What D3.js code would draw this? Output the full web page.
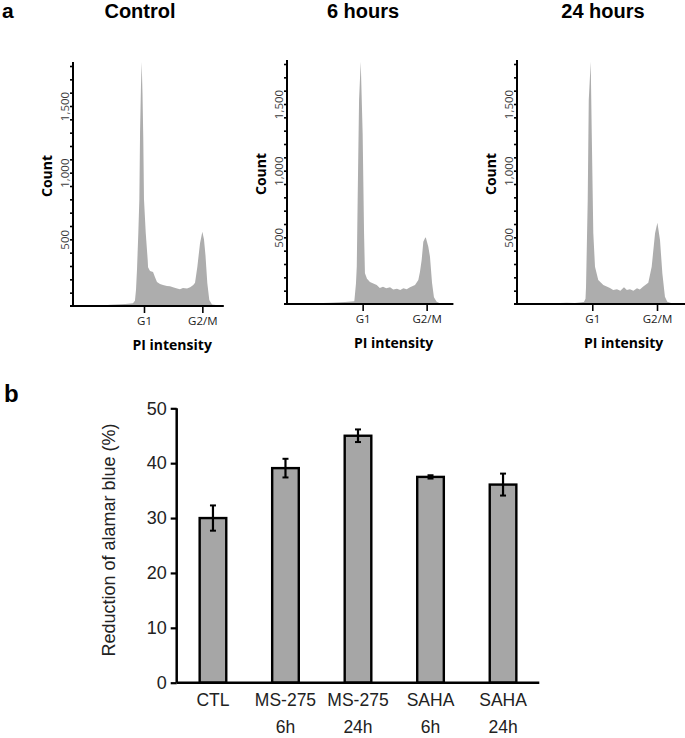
<!DOCTYPE html>
<html><head><meta charset="utf-8">
<script src="https://cdn.jsdelivr.net/npm/d3@7"></script>
<style>body{margin:0;background:#fff}</style>
</head><body>
<svg id="chart" width="685" height="738" xmlns="http://www.w3.org/2000/svg"></svg>
<script>
// ---------- Panel a data ----------
const panelTitles = ["Control", "6 hours", "24 hours"];
// [PI intensity (arbitrary units), count]
const histControl = [[20,3],[28,5],[32,10],[45,15],[51.7,20],[53.4,40],[54.3,120],[55.2,280],[56.3,545],[57.2,800],[57.8,1300],[58.6,1650],[59.2,1830],[59.9,1600],[60.6,1250],[61.2,800],[62.7,550],[64.4,345],[64.7,290],[66.4,262],[69,255],[70.7,215],[72.4,180],[75,165],[77.6,157],[81,150],[83.6,148],[86.2,140],[89.7,132],[92.2,125],[94.8,135],[98.3,132],[101,140],[103.7,157],[105.2,175],[107.2,295],[109.5,470],[111.5,557],[112.9,500],[114.2,380],[115.8,170],[117.5,45],[119.8,12],[125,5],[130,2]];
const hist6h = [[20,3],[23.2,5],[33.6,10],[45.3,15],[52.6,20],[53.9,155],[54.5,280],[55.2,780],[56.3,1530],[57.6,1817],[59.1,1280],[60.2,530],[60.9,230],[62.5,190],[64.8,165],[70.1,142],[72.5,120],[75,130],[77.5,118],[80.5,125],[83,108],[85.9,115],[88.5,105],[90.9,118],[93.5,110],[96.1,125],[100,142],[102.6,180],[103.9,242],[105.2,330],[106.5,467],[107.8,493],[108.4,500],[110.4,430],[111.7,355],[113.3,160],[114.8,50],[116.9,17],[119.5,5],[130,2]];
const hist24h = [[22,3],[27.7,5],[38.2,10],[44.6,8],[51.5,15],[52.7,40],[53.1,130],[54.4,780],[55.2,1530],[56.7,1817],[57.5,1280],[58.7,530],[60,280],[62.5,180],[66.4,142],[71.5,120],[74,105],[76.9,110],[79.5,100],[82.3,125],[84.5,105],[86.9,110],[89.5,100],[92.3,118],[94.5,108],[96.9,130],[101,160],[103.6,280],[106.2,530],[108,610],[110,480],[111.8,230],[113.8,55],[115.6,17],[119.2,5],[128,2]];
const g1Pos = [61.2, 59.1, 57.9];
const g2mPos = [111.5, 109.1, 107.7];
const phaseLabels = ["G1", "G2/M"];
const countTicks = d3.range(100, 1900, 100);
const countLabelValues = [500, 1000, 1500];

// ---------- Panel b data ----------
const groupLine1 = ["CTL", "MS-275", "MS-275", "SAHA", "SAHA"];
const groupLine2 = ["", "6h", "24h", "6h", "24h"];
const alamarMean = [30.0, 39.1, 45.0, 37.5, 36.1];
const alamarErr = [2.3, 1.7, 1.15, 0.3, 2.0];
const alamarTicks = [0, 10, 20, 30, 40, 50];

// ---------- drawing ----------
const svg = d3.select("#chart");
const hists = [histControl, hist6h, hist24h];

// layout (positions/styles only)
const axisXs = [73, 287, 517];
const pxPerUnit = [1.16, 1.28, 1.30];
const baselines = [306, 304, 304];
const titleCenters = [140, 363, 603];
const axisLen = 244;

svg.append("text").attr("x", 2).attr("y", 18)
  .style("font-family", "Liberation Sans, Arial, sans-serif")
  .style("font-weight", "bold").style("font-size", "21px").text("a");

hists.forEach((data, i) => {
  const x = d3.scaleLinear().domain([0, 130]).range([axisXs[i], axisXs[i] + 130 * pxPerUnit[i]]);
  const y = d3.scaleLinear().domain([0, 1830]).range([baselines[i], baselines[i] - axisLen]);
  const g = svg.append("g");

  const area = d3.area().x(d => x(d[0])).y0(y(0)).y1(d => y(d[1])).curve(d3.curveLinear);
  g.append("path").datum(data).attr("d", area).attr("fill", "#adadad").attr("stroke", "none");

  // y axis
  const yAxis = d3.axisLeft(y).tickValues(countTicks).tickSize(3).tickPadding(0)
    .tickFormat(d => countLabelValues.includes(d) ? d3.format(",")(d) : "");
  const ya = g.append("g").attr("transform", `translate(${axisXs[i]},0)`).call(yAxis);
  ya.select(".domain").attr("d", `M0,${baselines[i]}V${baselines[i] - axisLen}`).attr("stroke", "#000").attr("stroke-width", 2);
  ya.selectAll(".tick line").attr("stroke", "#000").attr("stroke-width", 1.6);
  ya.selectAll(".tick text")
    .attr("x", 0).attr("y", -4).attr("dy", 0)
    .attr("transform", "rotate(-90)")
    .attr("text-anchor", "middle")
    .style("font-family", "Open Sans, sans-serif").style("font-size", "11.5px")
    .style("font-weight", "normal").attr("fill", "#3a3a3a");

  // x axis
  const xAxis = d3.axisBottom(x).tickValues([g1Pos[i], g2mPos[i]]).tickSize(7).tickPadding(4)
    .tickFormat((d, j) => phaseLabels[j]);
  const xa = g.append("g").attr("transform", `translate(0,${baselines[i]})`).call(xAxis);
  xa.select(".domain").attr("d", `M${axisXs[i] - 3},0H${x(130)}`).attr("stroke", "#000").attr("stroke-width", 2);
  xa.selectAll(".tick line").attr("stroke", "#000").attr("stroke-width", 1.6);
  xa.selectAll(".tick text")
    .style("font-family", "Open Sans, sans-serif").style("font-size", "11.5px")
    .style("font-weight", "normal").attr("fill", "#222");

  // labels
  g.append("text").attr("x", titleCenters[i]).attr("y", 18).attr("text-anchor", "middle")
    .style("font-family", "Liberation Sans, Arial, sans-serif").style("font-weight", "bold")
    .style("font-size", "20px").text(panelTitles[i]);
  g.append("text").attr("transform", `translate(${axisXs[i] - 21},${baselines[i] - 130}) rotate(-90)`)
    .attr("text-anchor", "middle")
    .style("font-family", "Open Sans, sans-serif").style("font-weight", "bold")
    .style("font-size", "14px").text("Count");
  g.append("text").attr("x", (x(g1Pos[i]) + x(g2mPos[i])) / 2 - 1).attr("y", baselines[i] + 44)
    .attr("text-anchor", "middle")
    .style("font-family", "Open Sans, sans-serif").style("font-weight", "bold")
    .style("font-size", "14px").text("PI intensity");
});

// ---------- panel b ----------
svg.append("text").attr("x", 4).attr("y", 402)
  .style("font-family", "Liberation Sans, Arial, sans-serif")
  .style("font-weight", "bold").style("font-size", "24px").text("b");

const bx0 = 176.7, bx1 = 539.3, by0 = 682.7, by1 = 408.3;
const xb = d3.scaleBand().domain(groupLine1.map((d, i) => i)).range([bx0, bx1]).paddingInner(0.6).paddingOuter(0.3);
const yb = d3.scaleLinear().domain([0, 50]).range([by0, by1]);
const gb = svg.append("g");

gb.selectAll("rect.bar").data(alamarMean).join("rect").attr("class", "bar")
  .attr("x", (d, i) => xb(i) + 1.2)
  .attr("width", xb.bandwidth() - 2.4)
  .attr("y", d => yb(d))
  .attr("height", d => yb(0) - yb(d))
  .attr("fill", "#a6a6a6").attr("stroke", "#000").attr("stroke-width", 2.4);

// error bars
alamarMean.forEach((m, i) => {
  const cx = xb(i) + xb.bandwidth() / 2;
  const e = alamarErr[i];
  gb.append("line").attr("x1", cx).attr("x2", cx).attr("y1", yb(m + e)).attr("y2", yb(m - e))
    .attr("stroke", "#000").attr("stroke-width", 2.2);
  [m + e, m - e].forEach(v => {
    gb.append("line").attr("x1", cx - 3).attr("x2", cx + 3).attr("y1", yb(v)).attr("y2", yb(v))
      .attr("stroke", "#000").attr("stroke-width", 2);
  });
});

const ybAxis = d3.axisLeft(yb).tickValues(alamarTicks).tickSize(6).tickPadding(4).tickFormat(d3.format("d"));
const yba = gb.append("g").attr("transform", `translate(${bx0},0)`).call(ybAxis);
yba.select(".domain").attr("d", `M0,${by1}V${by0}`).attr("stroke", "#000").attr("stroke-width", 2.5);
yba.selectAll(".tick line").attr("stroke", "#000").attr("stroke-width", 2.2);
yba.selectAll(".tick text").style("font-family", "Liberation Sans, Arial, sans-serif")
  .style("font-size", "18px").attr("fill", "#222");

gb.append("line").attr("x1", bx0).attr("x2", bx1).attr("y1", by0).attr("y2", by0)
  .attr("stroke", "#000").attr("stroke-width", 2.5);

const xl = gb.selectAll("text.xl").data(groupLine1).join("text").attr("class", "xl")
  .attr("x", (d, i) => xb(i) + xb.bandwidth() / 2)
  .attr("text-anchor", "middle")
  .style("font-family", "Liberation Sans, Arial, sans-serif").style("font-size", "17.5px").attr("fill", "#222");
xl.append("tspan").attr("x", (d, i) => xb(i) + xb.bandwidth() / 2).attr("y", 706).text(d => d);
xl.append("tspan").attr("x", (d, i) => xb(i) + xb.bandwidth() / 2).attr("y", 733).text((d, i) => groupLine2[i]);

gb.append("text").attr("transform", `translate(115,540) rotate(-90)`).attr("text-anchor", "middle")
  .style("font-family", "Liberation Sans, Arial, sans-serif").style("font-size", "18px").attr("fill", "#222")
  .text("Reduction of alamar blue (%)");
</script>
</body></html>
